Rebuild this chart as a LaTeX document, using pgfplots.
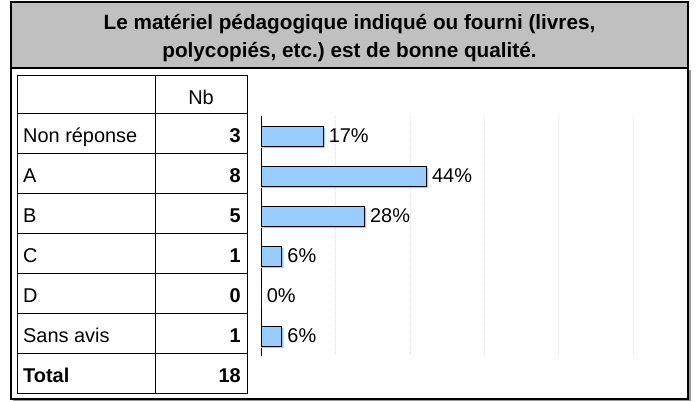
\documentclass[border=0pt]{standalone}
\usepackage{pgfplots}
\pgfplotsset{compat=1.18}
\usepackage{fontspec}
\setmainfont{Liberation Sans}
\definecolor{titlegray}{HTML}{C0C0C0}
\definecolor{barblue}{HTML}{99CCFF}
\definecolor{gridgray}{HTML}{E2E2E2}
\frenchspacing
\begin{document}
\begin{tikzpicture}
\begin{scope}[x=1bp,y=-1bp]
\path (0,0) rectangle (696,401);
\fill[gray!80] (13,70) rectangle (690.5,401);
\draw[line width=1.2bp, fill=white] (11,68) rectangle (688,399);
\draw[line width=1.2bp, fill=titlegray] (11,2) rectangle (688,68);
\node[font=\fontsize{20.8}{28}\selectfont\bfseries, align=center] at (349.5,38) {Le matériel pédagogique indiqué ou fourni (livres,\\polycopiés, etc.)\ est de bonne qualité.};
% table
\draw[line width=0.8bp] (17,75) rectangle (247,393);
\foreach \y in {113,153,193,233,273,313,353} \draw[line width=0.8bp] (17,\y) -- (247,\y);
\draw[line width=0.8bp] (155,75) -- (155,393);
\begin{scope}[every node/.style={font=\fontsize{20}{24}\selectfont, inner sep=0pt}]
\node[anchor=base] at (201,104) {Nb};
\node[anchor=base west] at (23,142.5) {Non réponse};
\node[anchor=base west] at (23,182.5) {A};
\node[anchor=base west] at (23,222.5) {B};
\node[anchor=base west] at (23,262.5) {C};
\node[anchor=base west] at (23,302.5) {D};
\node[anchor=base west] at (23,342.5) {Sans avis};
\node[anchor=base west] at (23,382.5) {\bfseries Total};
\node[anchor=base east] at (241,142.5) {\bfseries 3};
\node[anchor=base east] at (241,182.5) {\bfseries 8};
\node[anchor=base east] at (241,222.5) {\bfseries 5};
\node[anchor=base east] at (241,262.5) {\bfseries 1};
\node[anchor=base east] at (241,302.5) {\bfseries 0};
\node[anchor=base east] at (241,342.5) {\bfseries 1};
\node[anchor=base east] at (241,382.5) {\bfseries 18};
\end{scope}
\end{scope}
\begin{axis}[
  at={(261bp,-116bp)}, anchor=north west,
  scale only axis, width=372bp, height=240bp,
  xbar, bar width=20bp,
  xmin=0, xmax=100, ymin=-0.5, ymax=5.5, y dir=reverse,
  axis line style={draw=none},
  xtick={20,40,60,80,100}, xticklabels={}, ytick=\empty,
  major tick length=0pt,
  xmajorgrids, major grid style={gridgray, dash pattern=on 1bp off 1bp},
  extra x ticks={0}, extra x tick labels={},
  extra x tick style={grid=major, major grid style={black, solid, line width=0.8bp}},
  clip=false,
]
\addplot[fill=barblue, draw=none, bar shift=-2bp] coordinates {(17.2,0) (45,1) (28.3,2) (6.1,3) (0,4) (6.1,5)};
\addplot[fill=barblue, draw=black, line width=0.6bp, bar shift=0pt,
  nodes near coords, point meta=explicit symbolic,
  nodes near coords style={anchor=west, font=\fontsize{20}{24}\selectfont, inner sep=0pt, xshift=5.5bp, text=black}]
  coordinates {(16.67,0) [17\%] (44.44,1) [44\%] (27.78,2) [28\%] (5.56,3) [6\%] (0,4) [0\%] (5.56,5) [6\%]};
\end{axis}
\end{tikzpicture}
\end{document}
